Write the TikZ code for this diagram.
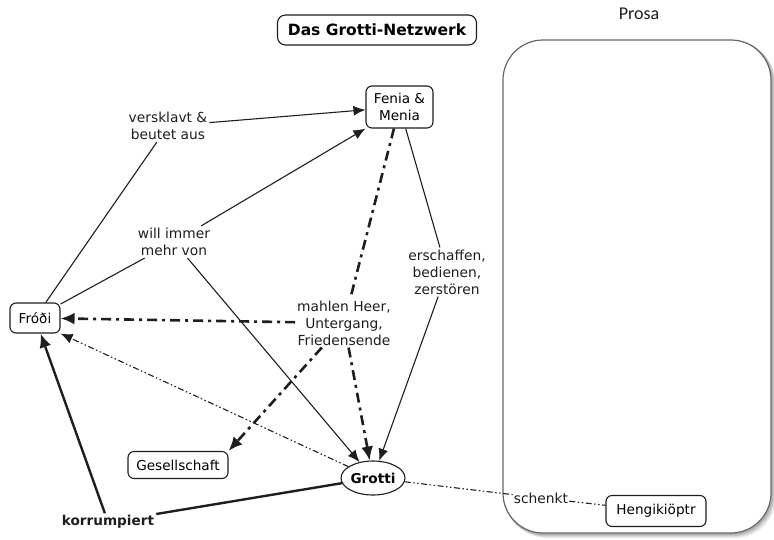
\documentclass[tikz,border=0pt]{standalone}
\usepackage{fontspec}
\setmainfont{DejaVu Sans}
\newfontfamily\prosafont{Carlito}
\usetikzlibrary{arrows.meta,shapes.geometric}
\definecolor{ink}{HTML}{1E1E1E}
\tikzset{
  box/.style={draw=ink,line width=1.1pt,rounded corners=6pt,fill=white,align=center,font=\fontsize{13.6}{17}\selectfont,inner sep=0pt},
  lab/.style={align=center,font=\fontsize{13.8}{17}\selectfont,inner sep=2pt,text=ink},
  thin/.style={draw=ink,line width=1.1pt},
  thick/.style={draw=ink,line width=2.4pt},
  dashthick/.style={draw=ink,line width=2.6pt,dash pattern=on 10pt off 5pt on 3pt off 5pt},
  dashthin/.style={draw=ink,line width=1.1pt,dash pattern=on 6pt off 2.5pt on 1.5pt off 2.5pt on 1.5pt off 2.5pt},
  arr/.style={-{Latex[length=12pt,width=10pt]}},
  arrb/.style={-{Latex[length=14pt,width=12pt]}},
}
\begin{document}
\begin{tikzpicture}[x=1pt,y=-1pt]
\useasboundingbox (0,0) rectangle (774,539);
% Prosa container with soft shadow
\foreach \o/\c in {4/black!8,3/black!14,2/black!22,1/black!30}{
  \draw[\c,line width=2pt,rounded corners=40pt] (503+\o,40+\o) rectangle (771+\o,533+\o);
}
\draw[fill=white,draw=black!60,line width=1.2pt,rounded corners=40pt] (503,40) rectangle (771,533);
\node[font=\prosafont\fontsize{18}{20}\selectfont,text=ink] (prosa) at (639,14) {Prosa};
% title
\node[box,font=\bfseries\fontsize{15.5}{18}\selectfont,minimum width=199pt,minimum height=30pt,rounded corners=8pt] (title) at (377,30) {Das Grotti-Netzwerk};
% nodes
\node[box,minimum width=67pt,minimum height=42pt] (fenia) at (399.5,107) {Fenia \&\\Menia};
\node[box,minimum width=50pt,minimum height=30pt] (frodi) at (35,318) {Fróði};
\node[box,minimum width=100pt,minimum height=27pt] (gesell) at (178,465) {Gesellschaft};
\node[draw=ink,line width=1.1pt,ellipse,fill=white,minimum width=64pt,minimum height=34pt,inner sep=0pt,font=\bfseries\fontsize{13.6}{17}\selectfont] (grotti) at (373,478) {Grotti};
\node[box,minimum width=100pt,minimum height=31pt] (hengi) at (656,511) {Hengikiöptr};
% labels
\node[lab] (lvers) at (168,126) {versklavt \&\\beutet aus};
\node[lab] (lwill) at (174,242) {will immer\\mehr von};
\node[lab] (lersch) at (447,272) {erschaffen,\\bedienen,\\zerstören};
\node[lab] (lmahl) at (344,323) {mahlen Heer,\\Untergang,\\Friedensende};
\node[lab,font=\bfseries\fontsize{13.6}{17}\selectfont] (lkorr) at (108,522) {korrumpiert};
\node[lab,inner sep=1pt] (lschenkt) at (541,498) {schenkt};
% edges
\draw[thin] (frodi) -- (lvers);
\draw[thin,arr] (lvers) -- (fenia);
\draw[thin] (frodi) -- (lwill);
\draw[thin,arr] (lwill) -- (fenia.south west);
\draw[thin,arr] (lwill) -- (grotti);
\draw[thin] (fenia) -- (lersch);
\draw[thin,arr] (lersch) -- (grotti);
\draw[dashthick] (fenia) -- (lmahl);
\draw[dashthick,arrb] (lmahl) -- (frodi);
\draw[dashthick,arrb] (lmahl) -- (gesell.north east);
\draw[dashthick,arrb] (lmahl) -- (grotti);
\draw[dashthin,arr] (grotti) -- (frodi.south east);
\draw[thick] (grotti) -- (lkorr);
\draw[thick,arrb] (lkorr) -- (frodi);
\draw[dashthin] (grotti) -- (lschenkt);
\draw[dashthin] (lschenkt) -- (hengi);
\end{tikzpicture}
\end{document}
